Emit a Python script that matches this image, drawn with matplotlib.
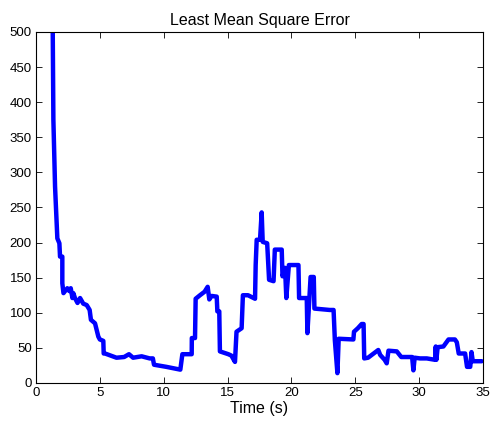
import matplotlib
matplotlib.use("Agg")
import matplotlib.pyplot as plt

plt.rcParams['font.family'] = ['Liberation Sans', 'DejaVu Sans']

# time (s) and least mean square error
t = [1.31, 1.36, 1.49, 1.56, 1.67, 1.83, 1.88, 2.06, 2.06, 2.15, 2.45, 2.6, 2.72, 2.85, 2.92,
     3.05, 3.25, 3.45, 3.7, 3.97, 4.2, 4.3, 4.62, 4.88, 5.0, 5.27, 5.3, 5.4, 6.3, 6.9,
     7.28, 7.6, 8.27, 8.9, 9.15, 9.24, 10.2, 11.3, 11.46, 12.19, 12.2, 12.45, 12.5, 12.84,
     13.2, 13.44, 13.57, 13.75, 14.15, 14.2, 14.35, 14.4, 15.06, 15.3, 15.58, 15.7, 16.1,
     16.2, 16.6, 17.15, 17.2, 17.28, 17.54, 17.67, 17.75, 18.1, 18.25, 18.6, 18.7, 19.24,
     19.3, 19.5, 19.6, 19.8, 20.55, 20.6, 21.2, 21.25, 21.5, 21.75, 21.8, 23.0, 23.3, 23.4,
     23.6, 23.7, 24.85, 24.9, 25.2, 25.5, 25.65, 25.7, 26.0, 26.8, 26.95, 27.3, 27.46, 27.6,
     28.25, 28.6, 29.45, 29.55, 29.65, 30.07, 30.6, 31.25, 31.3, 31.35, 31.45, 31.9, 32.3,
     32.8, 32.95, 33.1, 33.6, 33.75, 34.0, 34.1, 34.2, 34.9]
lmse = [500, 375, 280, 251, 206, 199, 180, 180, 142, 128, 135, 131, 135, 121, 128,
        121, 114, 121, 113, 111, 104, 90, 85, 66, 62, 60, 42, 42, 36, 37,
        41, 36, 38, 35, 35, 26, 23, 19, 41, 41, 64, 64, 120, 125,
        130, 137, 119, 124, 123, 102, 102, 45, 41, 39, 30, 73, 78,
        125, 125, 120, 168, 204, 204, 243, 201, 199, 147, 145, 190, 190,
        152, 164, 121, 168, 168, 121, 121, 71, 151, 151, 106, 104, 104, 61,
        14, 63, 62, 73, 78, 84, 84, 35, 36, 47, 40, 33, 28, 46,
        45, 37, 37, 18, 36, 35, 35, 33, 52, 33, 51, 52, 62,
        62, 58, 42, 42, 23, 23, 44, 31, 31]

fig = plt.figure(figsize=(4.9, 4.23), dpi=100)
ax = fig.add_axes([0.0735, 0.0946, 0.9122, 0.8298])

ax.plot(t, lmse, color=(0, 0, 1), linewidth=3.2,
        solid_joinstyle='round', solid_capstyle='round')

ax.set_xlim(0, 35)
ax.set_ylim(0, 500)
ax.set_xticks(range(0, 36, 5))
ax.set_yticks(range(0, 501, 50))
ax.tick_params(direction='in', length=4, width=0.6, labelsize=9.5, pad=3,
               top=True, right=True)
for s in ax.spines.values():
    s.set_linewidth(0.8)

ax.set_title("Least Mean Square Error", fontsize=11.5, pad=5)
ax.set_xlabel("Time (s)", fontsize=11.5, labelpad=1)

fig.savefig("out.png", dpi=100)
